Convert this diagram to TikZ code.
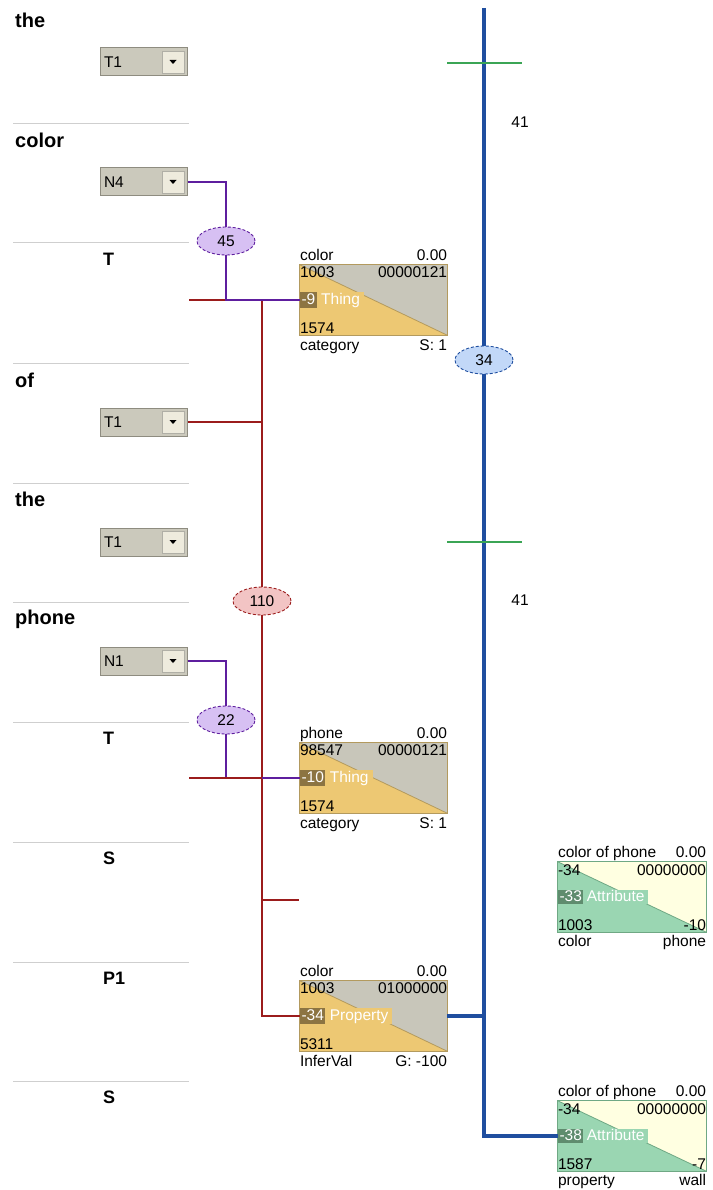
\documentclass[tikz,border=0pt]{standalone}
\usepackage{fontspec}
\setmainfont{Liberation Sans}
\usetikzlibrary{calc,shapes.geometric}
\definecolor{snRule}{HTML}{CFCFCF}
\definecolor{snDropFill}{HTML}{CBC9BC}
\definecolor{snDropEdge}{HTML}{8E8C80}
\definecolor{snDropButton}{HTML}{EEEBDD}
\definecolor{snStone}{HTML}{C8C6BA}
\definecolor{snAmber}{HTML}{EDC873}
\definecolor{snAmberDark}{HTML}{8C7442}
\definecolor{snAmberEdge}{HTML}{B39A5E}
\definecolor{snCream}{HTML}{FFFFE1}
\definecolor{snMint}{HTML}{9AD6B2}
\definecolor{snMintDark}{HTML}{5F8C6E}
\definecolor{snMintEdge}{HTML}{6FA884}
\definecolor{snPurple}{HTML}{5E1E9E}
\definecolor{snPurpleFill}{HTML}{D7C0F3}
\definecolor{snRed}{HTML}{9B1C1C}
\definecolor{snRedFill}{HTML}{F2C4C4}
\definecolor{snBlue}{HTML}{1F4E9F}
\definecolor{snBlueFill}{HTML}{C2D8F8}
\definecolor{snGreen}{HTML}{3BA555}
\tikzset{
  sn rule/.style={draw=snRule, line width=1pt},
  sn word/.style={font=\fontsize{20}{22}\selectfont\bfseries, anchor=west, inner sep=0pt},
  sn phrase/.style={font=\fontsize{18}{20}\selectfont\bfseries, anchor=west, inner sep=0pt},
  sn text/.style={font=\fontsize{15.5}{17}\selectfont, inner sep=0pt},
  sn dropdown/.style={
    draw=snDropEdge, fill=snDropFill, line width=1pt,
    minimum width=87pt, minimum height=28pt, inner xsep=4pt, inner ysep=0pt,
    text width=79pt, align=left, font=\fontsize{15.5}{17}\selectfont,
    path picture={
      \filldraw[fill=snDropButton, draw=snDropEdge!70, line width=.6pt]
        ([xshift=-25pt,yshift=-3pt]path picture bounding box.north east)
        rectangle ([xshift=-3pt,yshift=3pt]path picture bounding box.south east);
      \fill[black] ([xshift=-17.5pt,yshift=2pt]path picture bounding box.east)
        -- ++(7pt,0pt) -- ++(-3.5pt,-4pt) -- cycle;
    }
  },
  sn box/.style={rectangle, minimum width=147pt, minimum height=70pt, inner sep=0pt},
  sn chip/.style={sn text, anchor=west, inner xsep=1.5pt, inner ysep=2pt,
    text height=10.5pt, text depth=1.5pt, text=white},
  sn link/.style={ellipse, minimum width=58pt, minimum height=28pt, inner sep=0pt,
    line width=.9pt, dash pattern=on 3pt off 2pt, font=\fontsize{15.5}{17}\selectfont},
  sn wire purple/.style={draw=snPurple, line width=2.8pt},
  sn wire red/.style={draw=snRed, line width=2.8pt},
  sn wire blue/.style={draw=snBlue, line width=3.2pt},
  sn tick/.style={draw=snGreen, line width=1.2pt}
}

\begin{document}
\begin{tikzpicture}[x=1pt,y=-1pt]
  \useasboundingbox (0,0) rectangle (712,1190);
  \fill[white] (0,0) rectangle (712,1190);

  % section rules down the left column
  \foreach \ry in {124,243,363,483,602,722,842,962,1081}
    \draw[sn rule] (13,\ry) -- (189,\ry);

  % words and phrase labels
  \node[sn word] (wThe1) at (15,20) {the};
  \node[sn word] (wColor) at (15,140) {color};
  \node[sn word] (wOf) at (15,380) {of};
  \node[sn word] (wThe2) at (15,499) {the};
  \node[sn word] (wPhone) at (15,619) {phone};
  \node[sn phrase] (pT1) at (103,259) {T};
  \node[sn phrase] (pT2) at (103,738) {T};
  \node[sn phrase] (pS1) at (103,858) {S};
  \node[sn phrase] (pP1) at (103,978) {P1};
  \node[sn phrase] (pS2) at (103,1097) {S};

  % tag selectors
  \node[sn dropdown] (ddThe1) at (143.5,62) {T1};
  \node[sn dropdown] (ddColor) at (143.5,182) {N4};
  \node[sn dropdown] (ddOf) at (143.5,422) {T1};
  \node[sn dropdown] (ddThe2) at (143.5,542) {T1};
  \node[sn dropdown] (ddPhone) at (143.5,661) {N1};

  % concept: color
  \node[sn box, fill=snStone] (bxColor) at (373.5,300) {};
  \fill[snAmber] (bxColor.north west) -- (bxColor.south east) -- (bxColor.south west) -- cycle;
  \draw[snAmberEdge, line width=.8pt] (bxColor.north west) -- (bxColor.south east);
  \draw[snAmberEdge, line width=.8pt] (bxColor.north west) rectangle (bxColor.south east);
  \node[sn text, anchor=base west] (bxColor-ttl) at ([yshift=4.5pt]bxColor.north west) {color};
  \node[sn text, anchor=base east] (bxColor-val) at ([yshift=4.5pt]bxColor.north east) {0.00};
  \node[sn text, anchor=north west] (bxColor-id) at ([yshift=-2pt]bxColor.north west) {1003};
  \node[sn text, anchor=north east] (bxColor-flag) at ([yshift=-2pt]bxColor.north east) {00000121};
  \node[sn chip, fill=snAmberDark] (bxColor-chip) at (bxColor.west) {-9};
  \node[sn chip, fill=snAmber, inner xsep=4pt] (bxColor-kind) at (bxColor-chip.east) {Thing};
  \node[sn text, anchor=base west] (bxColor-ref) at ([yshift=2pt]bxColor.south west) {1574};
  \node[sn text, anchor=base west] (bxColor-cat) at ([yshift=-15pt]bxColor.south west) {category};
  \node[sn text, anchor=base east] (bxColor-sc) at ([yshift=-15pt]bxColor.south east) {S: 1};

  % concept: phone
  \node[sn box, fill=snStone] (bxPhone) at (373.5,778) {};
  \fill[snAmber] (bxPhone.north west) -- (bxPhone.south east) -- (bxPhone.south west) -- cycle;
  \draw[snAmberEdge, line width=.8pt] (bxPhone.north west) -- (bxPhone.south east);
  \draw[snAmberEdge, line width=.8pt] (bxPhone.north west) rectangle (bxPhone.south east);
  \node[sn text, anchor=base west] (bxPhone-ttl) at ([yshift=4.5pt]bxPhone.north west) {phone};
  \node[sn text, anchor=base east] (bxPhone-val) at ([yshift=4.5pt]bxPhone.north east) {0.00};
  \node[sn text, anchor=north west] (bxPhone-id) at ([yshift=-2pt]bxPhone.north west) {98547};
  \node[sn text, anchor=north east] (bxPhone-flag) at ([yshift=-2pt]bxPhone.north east) {00000121};
  \node[sn chip, fill=snAmberDark] (bxPhone-chip) at (bxPhone.west) {-10};
  \node[sn chip, fill=snAmber, inner xsep=4pt] (bxPhone-kind) at (bxPhone-chip.east) {Thing};
  \node[sn text, anchor=base west] (bxPhone-ref) at ([yshift=2pt]bxPhone.south west) {1574};
  \node[sn text, anchor=base west] (bxPhone-cat) at ([yshift=-15pt]bxPhone.south west) {category};
  \node[sn text, anchor=base east] (bxPhone-sc) at ([yshift=-15pt]bxPhone.south east) {S: 1};

  % property: color
  \node[sn box, fill=snStone] (bxProp) at (373.5,1016) {};
  \fill[snAmber] (bxProp.north west) -- (bxProp.south east) -- (bxProp.south west) -- cycle;
  \draw[snAmberEdge, line width=.8pt] (bxProp.north west) -- (bxProp.south east);
  \draw[snAmberEdge, line width=.8pt] (bxProp.north west) rectangle (bxProp.south east);
  \node[sn text, anchor=base west] (bxProp-ttl) at ([yshift=4.5pt]bxProp.north west) {color};
  \node[sn text, anchor=base east] (bxProp-val) at ([yshift=4.5pt]bxProp.north east) {0.00};
  \node[sn text, anchor=north west] (bxProp-id) at ([yshift=-2pt]bxProp.north west) {1003};
  \node[sn text, anchor=north east] (bxProp-flag) at ([yshift=-2pt]bxProp.north east) {01000000};
  \node[sn chip, fill=snAmberDark] (bxProp-chip) at (bxProp.west) {-34};
  \node[sn chip, fill=snAmber, inner xsep=4pt] (bxProp-kind) at (bxProp-chip.east) {Property};
  \node[sn text, anchor=base west] (bxProp-ref) at ([yshift=2pt]bxProp.south west) {5311};
  \node[sn text, anchor=base west] (bxProp-cat) at ([yshift=-15pt]bxProp.south west) {InferVal};
  \node[sn text, anchor=base east] (bxProp-sc) at ([yshift=-15pt]bxProp.south east) {G: -100};

  % attribute: color of phone
  \node[sn box, minimum width=148pt, fill=snCream] (bxAttrA) at (632,897) {};
  \fill[snMint] (bxAttrA.north west) -- (bxAttrA.south east) -- (bxAttrA.south west) -- cycle;
  \draw[snMintEdge, line width=.8pt] (bxAttrA.north west) -- (bxAttrA.south east);
  \draw[snMintEdge, line width=.8pt] (bxAttrA.north west) rectangle (bxAttrA.south east);
  \node[sn text, anchor=base west] (bxAttrA-ttl) at ([yshift=4.5pt]bxAttrA.north west) {color of phone};
  \node[sn text, anchor=base east] (bxAttrA-val) at ([yshift=4.5pt]bxAttrA.north east) {0.00};
  \node[sn text, anchor=north west] (bxAttrA-id) at ([yshift=-3pt]bxAttrA.north west) {-34};
  \node[sn text, anchor=north east] (bxAttrA-flag) at ([yshift=-3pt]bxAttrA.north east) {00000000};
  \node[sn chip, inner ysep=1pt, fill=snMintDark] (bxAttrA-chip) at (bxAttrA.west) {-33};
  \node[sn chip, inner ysep=1pt, fill=snMint, inner xsep=3pt] (bxAttrA-kind) at (bxAttrA-chip.east) {Attribute};
  \node[sn text, anchor=base west] (bxAttrA-ref) at ([yshift=1.5pt]bxAttrA.south west) {1003};
  \node[sn text, anchor=base east] (bxAttrA-obj) at ([yshift=1.5pt]bxAttrA.south east) {-10};
  \node[sn text, anchor=base west] (bxAttrA-cat) at ([yshift=-14pt]bxAttrA.south west) {color};
  \node[sn text, anchor=base east] (bxAttrA-sc) at ([yshift=-14pt]bxAttrA.south east) {phone};

  % attribute: color of phone (wall)
  \node[sn box, minimum width=148pt, fill=snCream] (bxAttrB) at (632,1136) {};
  \fill[snMint] (bxAttrB.north west) -- (bxAttrB.south east) -- (bxAttrB.south west) -- cycle;
  \draw[snMintEdge, line width=.8pt] (bxAttrB.north west) -- (bxAttrB.south east);
  \draw[snMintEdge, line width=.8pt] (bxAttrB.north west) rectangle (bxAttrB.south east);
  \node[sn text, anchor=base west] (bxAttrB-ttl) at ([yshift=4.5pt]bxAttrB.north west) {color of phone};
  \node[sn text, anchor=base east] (bxAttrB-val) at ([yshift=4.5pt]bxAttrB.north east) {0.00};
  \node[sn text, anchor=north west] (bxAttrB-id) at ([yshift=-3pt]bxAttrB.north west) {-34};
  \node[sn text, anchor=north east] (bxAttrB-flag) at ([yshift=-3pt]bxAttrB.north east) {00000000};
  \node[sn chip, inner ysep=1pt, fill=snMintDark] (bxAttrB-chip) at (bxAttrB.west) {-38};
  \node[sn chip, inner ysep=1pt, fill=snMint, inner xsep=3pt] (bxAttrB-kind) at (bxAttrB-chip.east) {Attribute};
  \node[sn text, anchor=base west] (bxAttrB-ref) at ([yshift=1.5pt]bxAttrB.south west) {1587};
  \node[sn text, anchor=base east] (bxAttrB-obj) at ([yshift=1.5pt]bxAttrB.south east) {-7};
  \node[sn text, anchor=base west] (bxAttrB-cat) at ([yshift=-14pt]bxAttrB.south west) {property};
  \node[sn text, anchor=base east] (bxAttrB-sc) at ([yshift=-14pt]bxAttrB.south east) {wall};

  % link weights
  \node[sn link, draw=snPurple, fill=snPurpleFill] (lnk45) at (226,241) {45};
  \node[sn link, draw=snPurple, fill=snPurpleFill] (lnk22) at (226,720) {22};
  \node[sn link, draw=snRed, fill=snRedFill] (lnk110) at (262,601) {110};
  \node[sn link, draw=snBlue, fill=snBlueFill] (lnk34) at (484,360) {34};

  % free ends
  \coordinate (tA) at (189,300);
  \coordinate (tB) at (189,778);
  \coordinate (sStub) at (299,900);
  \coordinate (busTop) at (484,8);

  % red bus
  \draw[sn wire red] (tA) -| (lnk110.north);
  \draw[sn wire red] (ddOf.east) -- (ddOf.east -| lnk110.north);
  \draw[sn wire red] (lnk110.south) |- (bxProp.west);
  \draw[sn wire red] (sStub -| lnk110.south) -- (sStub);

  % purple links
  \draw[sn wire purple] (ddColor.east) -| (lnk45.north);
  \draw[sn wire purple] (lnk45.south) |- (bxColor.west);
  \draw[sn wire purple] (ddPhone.east) -| (lnk22.north);
  \draw[sn wire purple] (lnk22.south) |- (bxPhone.west);
  \draw[sn wire red] (tB) -- (tB -| lnk110.south);

  % blue bus
  \draw[sn wire blue] (busTop) -- (lnk34.north);
  \draw[sn wire blue] (lnk34.south) |- (bxAttrB.west);
  \draw[sn wire blue] (bxProp.east) -- (bxProp.east -| lnk34.south);

  % green marks and counts
  \draw[sn tick] (447,63) -- (522,63);
  \draw[sn tick] (447,542) -- (522,542);
  \node[sn text] (cnt1) at (520,122) {41};
  \node[sn text] (cnt2) at (520,600) {41};
\end{tikzpicture}
\end{document}
